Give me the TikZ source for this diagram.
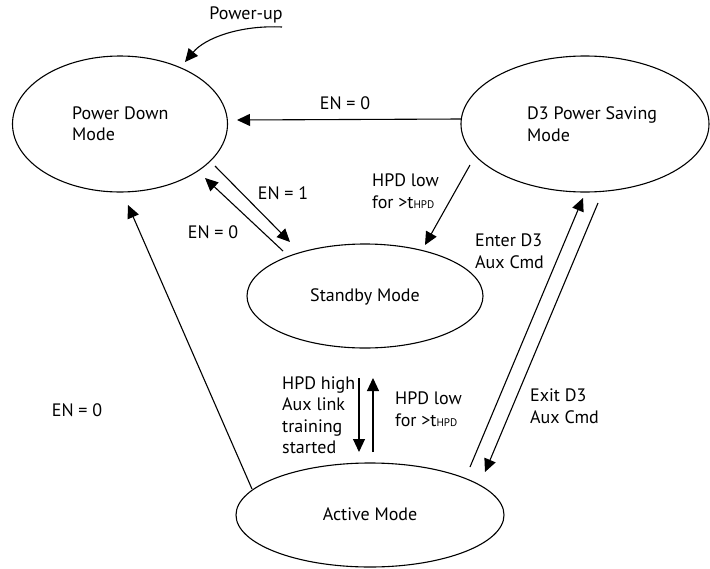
\documentclass[tikz,border=0pt]{standalone}
\usepackage{fontspec}
\setmainfont{PT Sans}
\usetikzlibrary{arrows.meta,calc,shapes.geometric}
\newcommand{\smallcap}[1]{{\fontsize{11}{11}\selectfont #1}}
\begin{document}
\begin{tikzpicture}[x=1pt,y=-1pt,
  st/.style={draw, line width=1.1pt, ellipse, inner sep=0pt},
  lbl/.style={font=\fontsize{18}{21.5}\selectfont, align=left, inner sep=0pt},
  arr/.style={line width=1.1pt, -{Triangle[length=13pt,width=12pt]}}]
\useasboundingbox (0,0) rectangle (710,568);
% states
\node[st, minimum width=215pt, minimum height=136pt] (pd) at (120,124) {};
\node[st, minimum width=248pt, minimum height=136pt] (d3) at (585,124) {};
\node[st, minimum width=236pt, minimum height=104pt] (sb) at (365,296) {};
\node[st, minimum width=268pt, minimum height=104pt] (ac) at (370,515) {};
% state texts
\node[lbl, anchor=west] (pdt) at (72,123.5) {Power Down\\Mode};
\node[lbl, anchor=west] (d3t) at (527,124) {D3 Power Saving\\Mode};
\node[lbl] (sbt) at (365,297) {Standby Mode};
\node[lbl] (act) at (370,514) {Active Mode};
% power-up
\coordinate (pu) at (282,27);
\node[lbl] (put) at (246,15) {Power-up};
\draw[arr] (pu) .. controls (240,25) and (205,38) .. ($(pd)+(65,-62)$);
% transitions
\draw[arr] ($(d3)+(-124,-5)$) -- ($(pd)+(117,-4)$);
\node[lbl] (l1) at (345,103) {EN = 0};
\draw[arr] ($(d3)+(-115,41)$) -- ($(sb)+(60,-51)$);
\node[lbl, anchor=west] (l2) at (372,191) {HPD low\\for >t\smallcap{HPD}};
\draw[arr] ($(pd)+(95,42)$) -- ($(sb)+(-75,-54)$);
\node[lbl] (l3) at (283,193) {EN = 1};
\draw[arr] ($(sb)+(-82,-45)$) -- ($(pd)+(85,54)$);
\node[lbl] (l4) at (213,232) {EN = 0};
\draw[arr] ($(ac)+(-118,-26)$) -- ($(pd)+(8,81)$);
\node[lbl] (l5) at (77,410) {EN = 0};
\draw[arr] ($(sb)+(-6,82)$) -- ($(ac)+(-11,-63)$);
\node[lbl, anchor=west] (l6) at (282,415) {HPD high\\Aux link\\training\\started};
\draw[arr] ($(ac)+(3,-63)$) -- ($(sb)+(8,82)$);
\node[lbl, anchor=west] (l7) at (395,409) {HPD low\\for >t\smallcap{HPD}};
\draw[arr] ($(ac)+(100,-48)$) -- ($(d3)+(-2,74)$);
\node[lbl, anchor=west] (l8) at (475,251) {Enter D3\\Aux Cmd};
\draw[arr] ($(d3)+(13,79)$) -- ($(ac)+(115,-43)$);
\node[lbl, anchor=west] (l9) at (530,406) {Exit D3\\Aux Cmd};
\end{tikzpicture}
\end{document}
